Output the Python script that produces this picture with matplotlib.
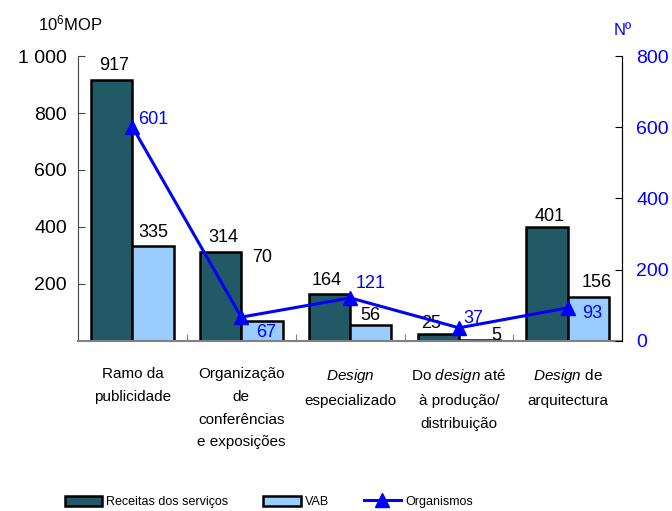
import matplotlib
matplotlib.use('Agg')
import matplotlib.pyplot as plt
from matplotlib import font_manager
import numpy as np

plt.rcParams['font.family'] = ['Liberation Sans', 'DejaVu Sans']
plt.rcParams['mathtext.fontset'] = 'custom'
plt.rcParams['mathtext.rm'] = 'Liberation Sans'
plt.rcParams['mathtext.it'] = 'Liberation Sans:italic'

# data
categories = ['Ramo da\npublicidade',
              'Organização\nde\nconferências\ne exposições',
              '$\\mathit{Design}$\nespecializado',
              'Do $\\mathit{design}$ até\nà produção/\ndistribuição',
              '$\\mathit{Design}$ de\narquitectura']
receitas = [917, 314, 164, 25, 401]
vab = [335, 70, 56, 5, 156]
organismos = [601, 67, 121, 37, 93]

dark = '#225966'
light = '#99ccff'
blue = '#0000ff'

# narrow font for the legend if there is one
names = {f.name for f in font_manager.fontManager.ttflist}
narrow = 'Liberation Sans Narrow' if 'Liberation Sans Narrow' in names else 'Liberation Sans'
leg_size = 11 if narrow == 'Liberation Sans Narrow' else 9

fig = plt.figure(figsize=(6.72, 5.11), dpi=100)
ax = fig.add_axes([0.116, 0.3327, 0.81, 0.5577])
ax2 = ax.twinx()

x = np.arange(len(categories))
w = 0.38
b1 = ax.bar(x - w/2, receitas, w, color=dark, edgecolor='black', linewidth=1.8,
            label='Receitas dos serviços', zorder=2)
b2 = ax.bar(x + w/2, vab, w, color=light, edgecolor='black', linewidth=1.8,
            label='VAB', zorder=2)
ln, = ax2.plot(x, organismos, color=blue, lw=2.2, marker='^', ms=10,
               label='Organismos')

ax.set_xlim(-0.5, 4.5)
ax.set_ylim(0, 1000)
ax2.set_ylim(0, 800)

ax.set_yticks([200, 400, 600, 800, 1000])
ax.set_yticklabels(['200', '400', '600', '800', '1 000'], fontsize=14)
ax2.set_yticks([0, 200, 400, 600, 800])
ax2.set_yticklabels(['0', '200', '400', '600', '800'], fontsize=14, color=blue)
ax.tick_params(axis='y', direction='in', length=5, color='#444444', pad=8)
ax2.tick_params(axis='y', direction='in', length=5, color='black', pad=10)

ax.set_xticks([0.5, 1.5, 2.5, 3.5])
ax.set_xticklabels([])
ax.tick_params(axis='x', direction='in', length=5, color='#808080')
for i, lab in enumerate(categories):
    ax.annotate(lab, (i, 0), xytext=(0, -19), textcoords='offset points',
                ha='center', va='top', fontsize=11, linespacing=1.78)

for a in (ax, ax2):
    a.spines['top'].set_visible(False)
ax.spines['left'].set_color('#444444')
ax.spines['bottom'].set_color('#808080')
ax.spines['bottom'].set_linewidth(1.5)
ax2.spines['left'].set_visible(False)
ax2.spines['bottom'].set_visible(False)
ax2.spines['right'].set_color('black')

# value labels for the bars
rec_off = [(2, 4), (2, 4), (-2, 4), (-5, 1), (2, 1)]
vab_off = [(0, 3), (0, 0), (0, 1), (12, -3), (6, 4)]
for i in range(len(x)):
    ax.annotate(str(receitas[i]), (x[i] - w/2, receitas[i]), xytext=rec_off[i],
                textcoords='offset points', ha='center', va='bottom', fontsize=13)
    yv = 292 if i == 1 else vab[i]
    ax.annotate(str(vab[i]), (x[i] + w/2, yv), xytext=vab_off[i],
                textcoords='offset points', ha='center',
                va='center' if i == 1 else 'bottom', fontsize=13)

# organismos labels
org_off = [(4, 5), (11, -11), (4, 10), (3, 7), (10, -4)]
for i in range(len(x)):
    ax2.annotate(str(organismos[i]), (x[i], organismos[i]), xytext=org_off[i],
                 textcoords='offset points', ha='left', va='center',
                 fontsize=13, color=blue)

fig.text(0.057, 0.955, '10$^6$MOP', fontsize=12, ha='left', va='center')
fig.text(0.913, 0.94, 'Nº', fontsize=12, ha='left', va='center', color=blue)

fig.legend(handles=[b1, b2, ln], loc='center', bbox_to_anchor=(0.40, 0.018),
           ncol=3, frameon=False, prop={'family': narrow, 'size': leg_size},
           handlelength=3.0, handleheight=0.9, columnspacing=2.8,
           handletextpad=0.3)

fig.savefig('out.png', dpi=100)
